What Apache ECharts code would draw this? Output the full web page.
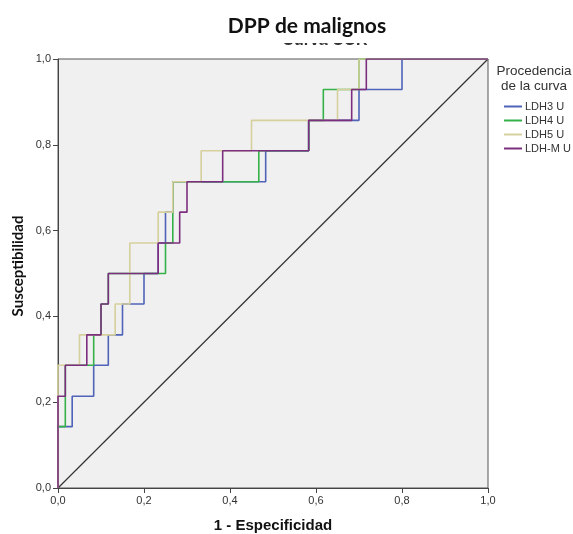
<!DOCTYPE html>
<html>
<head>
<meta charset="utf-8">
<script src="https://cdn.jsdelivr.net/npm/echarts@6/dist/echarts.min.js"></script>
<style>
  html, body { margin: 0; padding: 0; background: #fff; }
  #chart { width: 573px; height: 534px; }
</style>
</head>
<body>
<div id="chart"></div>
<script>
// puntos de la curva COR: 1 - especificidad (x) y susceptibilidad (y)
const ldh3Fpr = [0, 0, 0.033, 0.083, 0.117, 0.15, 0.2, 0.233, 0.25, 0.267, 0.483, 0.583, 0.7, 0.8, 1]
const ldh3Sens = [0, 0.143, 0.214, 0.286, 0.357, 0.429, 0.5, 0.571, 0.643, 0.714, 0.786, 0.857, 0.929, 1, 1]

const ldh4Fpr = [0, 0, 0.017, 0.083, 0.1, 0.117, 0.25, 0.267, 0.467, 0.583, 0.617, 0.7, 1]
const ldh4Sens = [0, 0.143, 0.286, 0.357, 0.429, 0.5, 0.571, 0.714, 0.786, 0.857, 0.929, 1, 1]

const ldh5Fpr = [0, 0, 0.05, 0.133, 0.167, 0.233, 0.267, 0.333, 0.45, 0.65, 0.7, 1]
const ldh5Sens = [0, 0.286, 0.357, 0.429, 0.571, 0.643, 0.714, 0.786, 0.857, 0.929, 1, 1]

const ldhMFpr = [0, 0, 0.017, 0.067, 0.1, 0.117, 0.233, 0.283, 0.3, 0.383, 0.583, 0.683, 0.717, 1]
const ldhMSens = [0, 0.214, 0.286, 0.357, 0.429, 0.5, 0.571, 0.643, 0.714, 0.786, 0.857, 0.929, 1, 1]

const diagonal = [[0, 0], [1, 1]]

const seriesNames = ['LDH3 U', 'LDH4 U', 'LDH5 U', 'LDH-M U']
const seriesColors = ['#4f63b8', '#35b14a', '#d5d09c', '#7c2f7e']

const pairs = (xs, ys) => xs.map((x, i) => [x, ys[i]])
const curves = [
  pairs(ldh3Fpr, ldh3Sens),
  pairs(ldh4Fpr, ldh4Sens),
  pairs(ldh5Fpr, ldh5Sens),
  pairs(ldhMFpr, ldhMSens)
]

const fmt = v => v.toFixed(1).replace('.', ',')

const myChart = echarts.init(document.getElementById('chart'))

const option = {
  backgroundColor: '#fff',
  animation: false,
  grid: {
    left: 58,
    right: 85,
    top: 59,
    bottom: 46,
    outerBoundsMode: 'none',
    show: true,
    backgroundColor: '#f0f0f0',
    borderColor: '#555',
    borderWidth: 1
  },
  graphic: [
    // titulo original recortado
    {
      type: 'text', z: 1,
      style: { text: 'Curva COR', x: 325, y: 49, align: 'center', verticalAlign: 'bottom', font: 'bold 16px "Liberation Sans"', fill: '#333' }
    },
    {
      type: 'rect', z: 2, shape: { x: 150, y: 0, width: 350, height: 43 },
      style: { fill: '#fff' }
    },
    {
      type: 'text', z: 3,
      style: { text: 'DPP de malignos', x: 307, y: 26, align: 'center', verticalAlign: 'middle', font: 'bold 21px Lato', fill: '#111' }
    },
    {
      type: 'text', z: 3,
      style: { text: 'Procedencia', x: 534, y: 71, align: 'center', verticalAlign: 'middle', font: '13.5px "Liberation Sans"', fill: '#333' }
    },
    {
      type: 'text', z: 3,
      style: { text: 'de la curva', x: 534, y: 86, align: 'center', verticalAlign: 'middle', font: '13.5px "Liberation Sans"', fill: '#333' }
    },
    {
      type: 'text', z: 3, rotation: Math.PI / 2, x: 18, y: 266,
      style: { text: 'Susceptibilidad', x: 0, y: 0, align: 'center', verticalAlign: 'middle', font: 'bold 15px Lato', fill: '#111' }
    }
  ],
  legend: {
    data: seriesNames,
    orient: 'vertical',
    left: 499,
    top: 96,
    icon: 'rect',
    itemWidth: 18,
    itemHeight: 2,
    itemGap: 3,
    textStyle: { fontFamily: 'Liberation Sans', fontSize: 11, color: '#333', lineHeight: 11, padding: [0, 0, 0, -2] }
  },
  xAxis: {
    type: 'value',
    min: 0,
    max: 1,
    interval: 0.2,
    name: '1 - Especificidad',
    nameLocation: 'middle',
    nameGap: 30,
    nameTextStyle: { fontFamily: 'Liberation Sans', fontWeight: 'bold', fontSize: 15, color: '#111' },
    axisLine: { lineStyle: { color: '#444' } },
    axisTick: { show: true, length: 5, lineStyle: { color: '#444' } },
    axisLabel: { formatter: fmt, fontFamily: 'Liberation Sans', fontSize: 11, color: '#333', margin: 7 },
    splitLine: { show: false }
  },
  yAxis: {
    type: 'value',
    min: 0,
    max: 1,
    interval: 0.2,
    axisLine: { show: true, lineStyle: { color: '#444' } },
    axisTick: { show: true, length: 5, lineStyle: { color: '#444' } },
    axisLabel: { formatter: fmt, fontFamily: 'Liberation Sans', fontSize: 11, color: '#333', margin: 7 },
    splitLine: { show: false }
  },
  series: [
    {
      name: 'Referencia',
      type: 'line',
      data: diagonal,
      symbol: 'none',
      silent: true,
      lineStyle: { color: '#333', width: 1.2 },
      z: 1
    }
  ].concat(curves.map((d, i) => ({
    name: seriesNames[i],
    type: 'line',
    step: 'end',
    data: d,
    symbol: 'none',
    color: seriesColors[i],
    lineStyle: { color: seriesColors[i], width: 1.6 },
    z: 2 + i
  })))
}

myChart.setOption(option)
</script>
</body>
</html>
